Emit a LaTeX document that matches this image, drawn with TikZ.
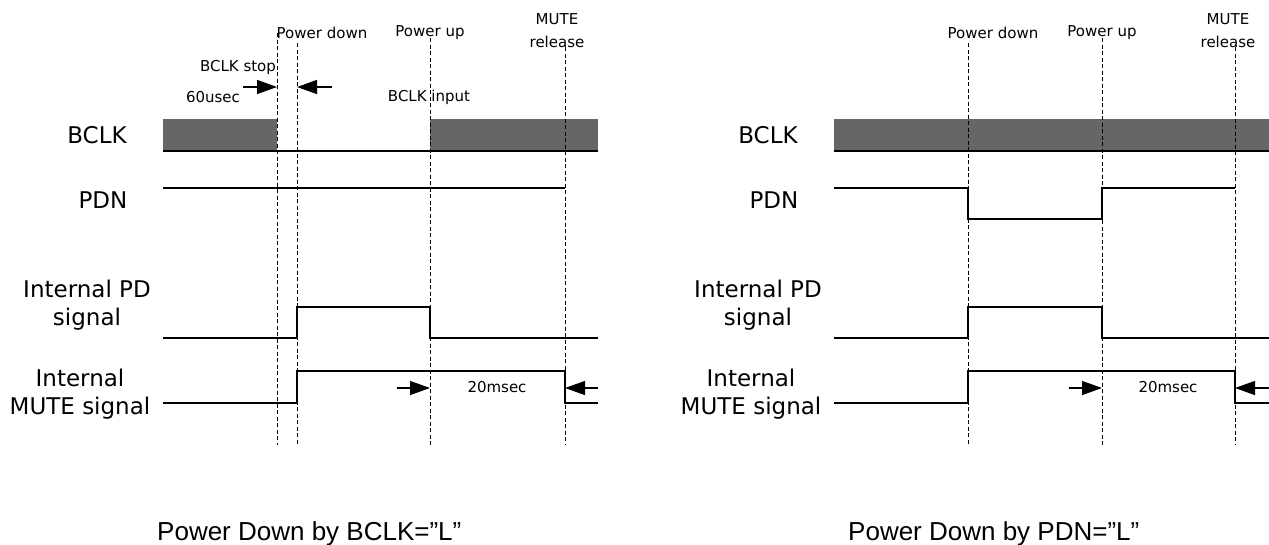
\documentclass[tikz,border=0pt]{standalone}
\usepackage{fontspec}
\setmainfont{DejaVu Sans}
\newfontfamily\captionfont{Liberation Sans}
\usetikzlibrary{arrows.meta}
\definecolor{clkgray}{RGB}{102,102,102}

\begin{document}
\begin{tikzpicture}[x=1pt, y=-1pt,
    signal/.style={line width=1.4pt},
    marker/.style={line width=0.9pt, dash pattern=on 4pt off 2.5pt},
    clock/.style={fill=clkgray, draw=none},
    timing/.style={line width=1.4pt, -{Triangle[length=20pt,width=14pt]}},
    siglabel/.style={font=\fontsize{23}{28}\selectfont, align=center, inner sep=0pt},
    note/.style={font=\fontsize{15}{23}\selectfont, align=center, inner sep=0pt},
    caption/.style={font=\captionfont\fontsize{26}{30}\selectfont, inner sep=0pt, anchor=base west},
  ]
  \useasboundingbox (0,0) rectangle (1269,544);

  % left: power down by BCLK
  \draw[clock] (163,119) rectangle (277,151);
  \draw[clock] (430,119) rectangle (598,151);
  \draw[signal] (163,151) -- (598,151);
  \draw[signal] (163,188) -- (565,188);
  \draw[signal] (163,338) -- (297,338) -- (297,307) -- (430,307) -- (430,338) -- (598,338);
  \draw[signal] (163,403) -- (297,403) -- (297,371) -- (565,371) -- (565,403) -- (598,403);

  \draw[marker] (277,33) coordinate (stopL) -- (277,445);
  \draw[marker] (297,43) coordinate (downL) -- (297,445);
  \draw[marker] (430,38) coordinate (upL) -- (430,445);
  \draw[marker] (565,47) coordinate (muteL) -- (565,445);

  \node[siglabel] (bclkL) at (97,135) {BCLK};
  \node[siglabel] (pdnL) at (103,200) {PDN};
  \node[siglabel] (ipdL) at (87,305) {Internal PD\\signal};
  \node[siglabel] (imuteL) at (80,394) {Internal\\MUTE signal};

  \node[note] (downtxtL) at (322,33) {Power down};
  \node[note] (uptxtL) at (430,33) {Power up};
  \node[note] (mutetxtL) at (557,31) {MUTE\\release};
  \node[note] (stoptxt) at (238,67) {BCLK stop};
  \node[note] (usectxt) at (213,97) {60usec};
  \node[note] (inputtxt) at (429,97) {BCLK input};
  \node[note] (msectxtL) at (497,387) {20msec};

  \coordinate (stopin) at (243,87);
  \coordinate (downin) at (332,87);
  \coordinate (msecinL) at (397,388);
  \coordinate (msecoutL) at (598,388);
  \draw[timing] (stopin) -- (stopin -| stopL);
  \draw[timing] (downin) -- (downin -| downL);
  \draw[timing] (msecinL) -- (msecinL -| upL);
  \draw[timing] (msecoutL) -- (msecoutL -| muteL);

  \node[caption] (capL) at (157,540) {Power Down by BCLK=”L”};

  % right: power down by PDN
  \draw[clock] (834,119) rectangle (1269,151);
  \draw[signal] (834,151) -- (1269,151);
  \draw[signal] (834,188) -- (968,188) -- (968,219) -- (1102,219) -- (1102,188) -- (1235,188);
  \draw[signal] (834,338) -- (968,338) -- (968,307) -- (1102,307) -- (1102,338) -- (1269,338);
  \draw[signal] (834,403) -- (968,403) -- (968,371) -- (1235,371) -- (1235,403) -- (1269,403);

  \draw[marker] (968,43) coordinate (downR) -- (968,445);
  \draw[marker] (1102,38) coordinate (upR) -- (1102,445);
  \draw[marker] (1235,47) coordinate (muteR) -- (1235,445);

  \node[siglabel] (bclkR) at (768,135) {BCLK};
  \node[siglabel] (pdnR) at (774,200) {PDN};
  \node[siglabel] (ipdR) at (758,305) {Internal PD\\signal};
  \node[siglabel] (imuteR) at (751,394) {Internal\\MUTE signal};

  \node[note] (downtxtR) at (993,33) {Power down};
  \node[note] (uptxtR) at (1102,33) {Power up};
  \node[note] (mutetxtR) at (1228,31) {MUTE\\release};
  \node[note] (msectxtR) at (1168,387) {20msec};

  \coordinate (msecinR) at (1069,388);
  \coordinate (msecoutR) at (1269,388);
  \draw[timing] (msecinR) -- (msecinR -| upR);
  \draw[timing] (msecoutR) -- (msecoutR -| muteR);

  \node[caption] (capR) at (848,540) {Power Down by PDN=”L”};
\end{tikzpicture}
\end{document}
